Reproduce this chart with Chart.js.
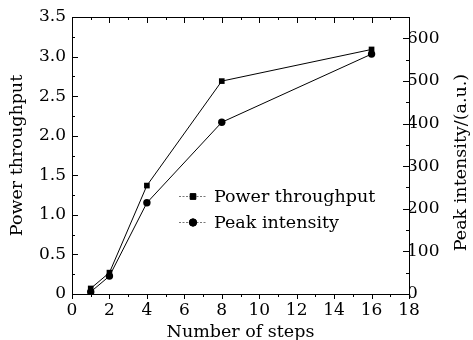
<!DOCTYPE html>
<html>
<head>
<meta charset="utf-8">
<script src="https://cdn.jsdelivr.net/npm/chart.js@4/dist/chart.umd.min.js"></script>
<style>
  html, body { margin: 0; padding: 0; background: #fff; }
  #wrap { width: 473px; height: 340px; }
</style>
</head>
<body>
<div id="wrap"><canvas id="stepsChart"></canvas></div>
<script>
let steps = [1, 2, 4, 8, 16];
let powerThroughput = [0.07, 0.27, 1.37, 2.69, 3.09];
let peakIntensity = [5, 42, 214, 403, 563];

let xTicks = [0, 2, 4, 6, 8, 10, 12, 14, 16, 18];
let leftTicks = [0, 0.5, 1.0, 1.5, 2.0, 2.5, 3.0, 3.5];
let rightTicks = [0, 100, 200, 300, 400, 500, 600];

let serif = "'DejaVu Serif', 'Liberation Serif', serif";

// ticks pointing into the plot, top frame line, right title and legend
let framePlugin = {
  id: "frame",
  afterDraw(chart) {
    let ctx = chart.ctx;
    let area = chart.chartArea;
    let x = chart.scales.x;
    let y = chart.scales.y;
    let y2 = chart.scales.y2;

    ctx.save();
    ctx.strokeStyle = "#000";
    ctx.lineWidth = 1;
    ctx.beginPath();
    ctx.moveTo(area.left, area.top + 0.5);
    ctx.lineTo(area.right, area.top + 0.5);

    for (let v = 0; v <= 18; v += 1) {
      let px = Math.round(x.getPixelForValue(v)) + 0.5;
      let len = v % 2 === 0 ? 6 : 3;
      ctx.moveTo(px, area.top);
      ctx.lineTo(px, area.top + len);
      let down = v % 2 === 0 ? 5 : 3;
      ctx.moveTo(px, area.bottom);
      ctx.lineTo(px, area.bottom + down);
    }
    for (let v = 0; v <= 3.5; v += 0.25) {
      let py = Math.round(y.getPixelForValue(v)) + 0.5;
      let len = Math.abs(v * 2 - Math.round(v * 2)) < 0.01 ? 6 : 3;
      ctx.moveTo(area.left, py);
      ctx.lineTo(area.left + len, py);
    }
    for (let v = 0; v <= 600; v += 50) {
      let py = Math.round(y2.getPixelForValue(v)) + 0.5;
      let len = v % 100 === 0 ? 6 : 3;
      ctx.moveTo(area.right, py);
      ctx.lineTo(area.right - len, py);
    }
    ctx.stroke();

    // right axis title, reading bottom to top
    ctx.fillStyle = "#000";
    ctx.font = "17.5px " + serif;
    ctx.textAlign = "center";
    ctx.textBaseline = "middle";
    ctx.save();
    ctx.translate(461, (area.top + area.bottom) / 2 + 7);
    ctx.rotate(-Math.PI / 2);
    ctx.fillText("Peak intensity/(a.u.)", 0, 0);
    ctx.restore();

    // legend inside the plot
    let rows = [196, 222];
    chart.data.datasets.forEach((ds, i) => {
      let ry = rows[i] + 0.5;
      ctx.save();
      ctx.strokeStyle = "#777";
      ctx.setLineDash([2, 1.5]);
      ctx.beginPath();
      ctx.moveTo(179, ry);
      ctx.lineTo(207, ry);
      ctx.stroke();
      ctx.restore();
      Chart.helpers.drawPoint(ctx, {
        pointStyle: ds.pointStyle,
        radius: ds.pointRadius,
        borderWidth: 1,
      }, 193, ry);
      ctx.fillStyle = "#000";
      ctx.fill();
      ctx.textAlign = "left";
      ctx.textBaseline = "middle";
      ctx.fillText(ds.label, 214, ry + 1);
    });
    ctx.restore();
  },
};

new Chart(document.querySelector("#stepsChart"), {
  type: "line",
  data: {
    datasets: [
      {
        label: "Power throughput",
        data: steps.map((s, i) => ({ x: s, y: powerThroughput[i] })),
        yAxisID: "y",
        borderColor: "#000",
        borderWidth: 1,
        backgroundColor: "#000",
        pointStyle: "rect",
        pointRadius: 4,
        pointBorderWidth: 0,
        fill: false,
      },
      {
        label: "Peak intensity",
        data: steps.map((s, i) => ({ x: s, y: peakIntensity[i] })),
        yAxisID: "y2",
        borderColor: "#000",
        borderWidth: 1,
        backgroundColor: "#000",
        pointStyle: "circle",
        pointRadius: 3.7,
        pointBorderWidth: 0,
        fill: false,
      },
    ],
  },
  options: {
    responsive: true,
    maintainAspectRatio: false,
    animation: false,
    layout: {
      padding: { top: 17, left: 0, right: 0, bottom: 0 },
    },
    scales: {
      x: {
        type: "linear",
        min: 0,
        max: 18,
        afterFit: (scale) => { scale.height = 46; },
        afterBuildTicks: (scale) => { scale.ticks = xTicks.map((v) => ({ value: v })); },
        grid: { drawOnChartArea: false, drawTicks: false },
        border: { display: true, color: "#000", width: 1 },
        ticks: {
          padding: 6,
          color: "#000",
          font: { size: 17, family: serif },
        },
        title: {
          display: true,
          text: "Number of steps",
          color: "#000",
          font: { size: 17.5, family: serif },
          padding: { top: 0, bottom: -3 },
        },
      },
      y: {
        position: "left",
        min: 0,
        max: 3.5,
        afterFit: (scale) => { scale.width = 72; },
        afterBuildTicks: (scale) => { scale.ticks = leftTicks.map((v) => ({ value: v })); },
        grid: { drawOnChartArea: false, drawTicks: false },
        border: { display: true, color: "#000", width: 1 },
        ticks: {
          padding: 6,
          color: "#000",
          font: { size: 17, family: serif },
          callback: (value) => (value === 0 ? "0" : value.toFixed(1)),
        },
        title: {
          display: true,
          text: "Power throughput",
          color: "#000",
          font: { size: 17.5, family: serif },
          padding: { top: 7, bottom: 0 },
        },
      },
      y2: {
        position: "right",
        min: 0,
        max: 650,
        afterFit: (scale) => { scale.width = 64; },
        afterBuildTicks: (scale) => { scale.ticks = rightTicks.map((v) => ({ value: v })); },
        grid: { drawOnChartArea: false, drawTicks: false },
        border: { display: true, color: "#000", width: 1 },
        ticks: {
          padding: -2,
          color: "#000",
          font: { size: 17, family: serif },
        },
      },
    },
    plugins: {
      legend: { display: false },
      tooltip: { enabled: false },
    },
  },
  plugins: [framePlugin],
});
</script>
</body>
</html>
